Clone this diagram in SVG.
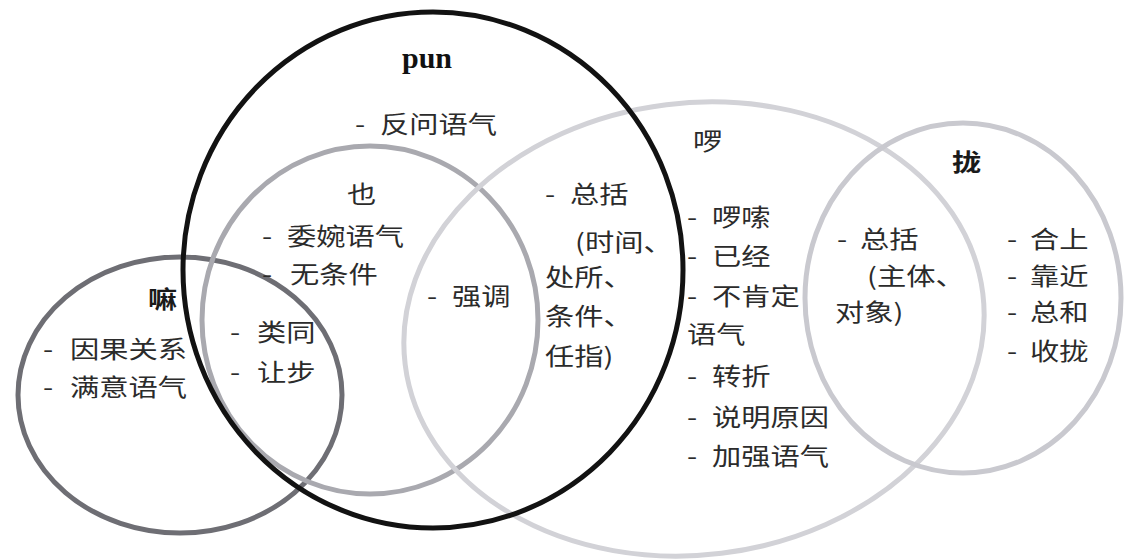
<svg xmlns="http://www.w3.org/2000/svg" width="1126" height="560" viewBox="0 0 1126 560">
<style>
.ring{fill:none;stroke-width:5}
.t{font-family:"Noto Sans CJK SC","Noto Sans CJK JP",sans-serif;font-size:24px;fill:#2b2b2b}
.h{font-weight:bold;fill:#1a1a1a}
.pun{font-family:"Liberation Serif",serif;font-size:30px;font-weight:bold;fill:#111}
</style>
<rect width="1126" height="560" fill="#ffffff"/>
<g id="node-ma">
<ellipse class="ring" cx="180" cy="395" rx="162" ry="138" stroke="#6e6e74"/>
<text class="t h" transform="scale(1.22,1)" x="121.3" y="308">嘛</text>
<text class="t" transform="scale(1.22,1)"><tspan x="35.2" y="358">-</tspan><tspan x="57.4">因果关系</tspan></text>
<text class="t" transform="scale(1.22,1)"><tspan x="35.2" y="396">-</tspan><tspan x="57.4">满意语气</tspan></text>
</g>
<g id="node-ye">
<ellipse class="ring" cx="370" cy="320" rx="168" ry="174" stroke="#a9a9af"/>
<text class="t" transform="scale(1.22,1)" x="284.4" y="203">也</text>
<text class="t" transform="scale(1.22,1)"><tspan x="214.8" y="245">-</tspan><tspan x="235.2">委婉语气</tspan></text>
<text class="t" transform="scale(1.22,1)"><tspan x="214.8" y="283">-</tspan><tspan x="237.7">无条件</tspan></text>
</g>
<g id="node-luo">
<ellipse class="ring" cx="694" cy="329" rx="291" ry="226" transform="rotate(-7 694 329)" stroke="#d2d2d7"/>
<text class="t" transform="scale(1.22,1)" x="568" y="150">啰</text>
<text class="t" transform="scale(1.22,1)"><tspan x="563.1" y="226">-</tspan><tspan x="583.6">啰嗦</tspan></text>
<text class="t" transform="scale(1.22,1)"><tspan x="563.1" y="265">-</tspan><tspan x="583.6">已经</tspan></text>
<text class="t" transform="scale(1.22,1)"><tspan x="563.1" y="305">-</tspan><tspan x="583.6">不肯定</tspan></text>
<text class="t" transform="scale(1.22,1)" x="563.1" y="343">语气</text>
<text class="t" transform="scale(1.22,1)"><tspan x="563.1" y="385">-</tspan><tspan x="583.6">转折</tspan></text>
<text class="t" transform="scale(1.22,1)"><tspan x="563.1" y="426">-</tspan><tspan x="583.6">说明原因</tspan></text>
<text class="t" transform="scale(1.22,1)"><tspan x="563.1" y="465">-</tspan><tspan x="583.6">加强语气</tspan></text>
</g>
<g id="node-long">
<ellipse class="ring" cx="963" cy="298" rx="158" ry="175" stroke="#c9c9cf"/>
<text class="t h" transform="scale(1.22,1)" x="780.3" y="171">拢</text>
<text class="t" transform="scale(1.22,1)"><tspan x="825.4" y="248">-</tspan><tspan x="844.3">合上</tspan></text>
<text class="t" transform="scale(1.22,1)"><tspan x="825.4" y="285">-</tspan><tspan x="844.3">靠近</tspan></text>
<text class="t" transform="scale(1.22,1)"><tspan x="825.4" y="321">-</tspan><tspan x="844.3">总和</tspan></text>
<text class="t" transform="scale(1.22,1)"><tspan x="825.4" y="360">-</tspan><tspan x="844.3">收拢</tspan></text>
</g>
<g id="node-pun">
<ellipse class="ring" cx="433" cy="270" rx="250" ry="258" stroke="#121212"/>
<text class="pun" x="402" y="68">pun</text>
<text class="t" transform="scale(1.22,1)"><tspan x="291" y="133">-</tspan><tspan x="311.5">反问语气</tspan></text>
</g>
<g id="overlaps">
<text class="t" transform="scale(1.22,1)"><tspan x="188.5" y="341">-</tspan><tspan x="210.7">类同</tspan></text>
<text class="t" transform="scale(1.22,1)"><tspan x="188.5" y="381">-</tspan><tspan x="210.7">让步</tspan></text>
<text class="t" transform="scale(1.22,1)"><tspan x="350" y="305">-</tspan><tspan x="370.5">强调</tspan></text>
<text class="t" transform="scale(1.22,1)"><tspan x="446.7" y="203">-</tspan><tspan x="467.2">总括</tspan></text>
<text class="t" transform="scale(1.22,1)" x="471.3" y="251">(时间、</text>
<text class="t" transform="scale(1.22,1)" x="446.7" y="286">处所、</text>
<text class="t" transform="scale(1.22,1)" x="446.7" y="325">条件、</text>
<text class="t" transform="scale(1.22,1)" x="446.7" y="365">任指)</text>
<text class="t" transform="scale(1.22,1)"><tspan x="686.1" y="248">-</tspan><tspan x="704.9">总括</tspan></text>
<text class="t" transform="scale(1.22,1)" x="710.7" y="285">(主体、</text>
<text class="t" transform="scale(1.22,1)" x="684.4" y="321">对象)</text>
</g>
</svg>
